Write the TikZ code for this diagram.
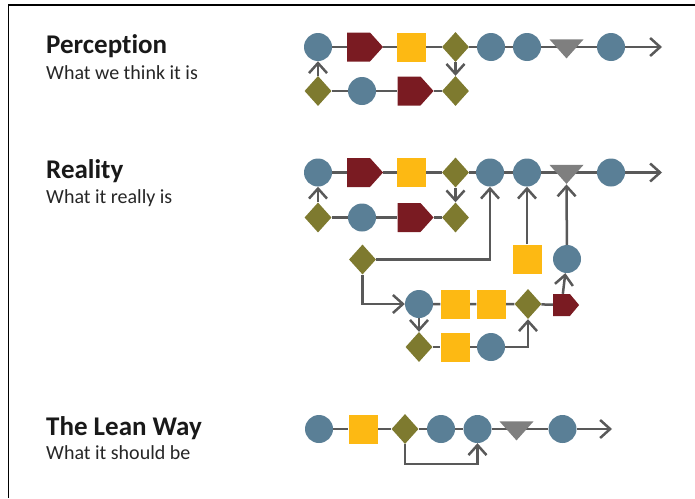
\documentclass[tikz,border=0pt]{standalone}
\usepackage{fontspec}
\setmainfont{Carlito}[Ligatures=NoCommon]
\usetikzlibrary{shapes.geometric,shapes.symbols,arrows.meta,backgrounds}
\definecolor{cblue}{HTML}{5A7F96}
\definecolor{cred}{HTML}{7A1B22}
\definecolor{cyel}{HTML}{FDB913}
\definecolor{colive}{HTML}{7E7A2F}
\definecolor{cgray}{HTML}{7F7F7F}
\definecolor{cline}{HTML}{595959}
\begin{document}
\begin{tikzpicture}[x=1pt,y=-1pt,
 circ/.style={circle,fill=cblue,minimum size=28pt,inner sep=0pt},
 sq/.style={rectangle,fill=cyel,minimum size=29pt,inner sep=0pt},
 dia/.style={diamond,fill=colive,minimum width=27pt,minimum height=30pt,inner sep=0pt},
 pent/.style={signal,signal to=east,signal pointer angle=96,fill=cred,minimum width=36pt,minimum height=29pt,inner sep=0pt},
 spent/.style={signal,signal to=east,signal pointer angle=100,fill=cred,minimum width=26pt,minimum height=22pt,inner sep=0pt},
 tri/.style={isosceles triangle,isosceles triangle stretches,shape border rotate=-90,fill=cgray,minimum width=34pt,minimum height=19pt,inner sep=0pt},
 conn/.style={draw=cline,line width=2.5pt},
 arr/.style={conn,-{Straight Barb[length=10pt,width=18pt]}},
 title/.style={anchor=base west,inner sep=0pt,font=\bfseries\fontsize{27}{32}\selectfont,text=black!90},
 sub/.style={anchor=base west,inner sep=0pt,font=\fontsize{20}{24}\selectfont,text=black!85},
]
\useasboundingbox (0,0) rectangle (695,498);
\draw[line width=1.8pt] (8.5,498) -- (8.5,5) -- (695,5);

% texts
\node[title] (tp) at (46,53) {Perception};
\node[sub] (sp) at (46,79) {What we think it is};
\node[title] (tr) at (46,178) {Reality};
\node[sub] (sr) at (46,203) {What it really is};
\node[title] (tl) at (46,435) {The Lean Way};
\node[sub] (sl) at (46,459) {What it should be};

% Perception
\node[circ] (p1) at (318,47) {};
\node[pent] (p2) at (358.5,47) {};
\node[sq] (p3) at (411.5,47) {};
\node[dia] (p4) at (455.5,47) {};
\node[circ] (p5) at (491,47) {};
\node[circ] (p6) at (527,47) {};
\node[tri] (p7) at (566.5,47) {};
\node[circ] (p8) at (611,47) {};
\coordinate (pe) at (662,47);
\node[dia] (q1) at (318,91) {};
\node[circ] (q2) at (362,91) {};
\node[pent] (q3) at (409,91) {};
\node[dia] (q4) at (455.5,91) {};

% Reality
\node[circ] (r1) at (318,172.5) {};
\node[pent] (r2) at (358.5,172.5) {};
\node[sq] (r3) at (411.5,172.5) {};
\node[dia] (r4) at (455.5,172.5) {};
\node[circ] (r5) at (490,172.5) {};
\node[circ] (r6) at (527,172.5) {};
\node[tri] (r7) at (566.5,172.5) {};
\node[circ] (r8) at (611,172.5) {};
\coordinate (re) at (662,172.5);
\node[dia] (s1) at (318,217.5) {};
\node[circ] (s2) at (362,217.5) {};
\node[pent] (s3) at (409,217.5) {};
\node[dia] (s4) at (455.5,217.5) {};
\node[dia] (d1) at (362.5,259.5) {};
\node[sq] (k1) at (527,259) {};
\node[circ] (k2) at (567,259) {};
\node[circ] (m1) at (419,304) {};
\node[sq] (m2) at (455,304) {};
\node[sq] (m3) at (491,304) {};
\node[dia] (m4) at (528,304) {};
\node[spent] (m5) at (561.5,305) {};
\node[dia] (n1) at (419,347) {};
\node[sq] (n2) at (455,347) {};
\node[circ] (n3) at (491,347) {};

% Lean
\node[circ] (l1) at (319,429) {};
\node[sq] (l2) at (363,429) {};
\node[dia] (l3) at (405,429) {};
\node[circ] (l4) at (441,429) {};
\node[circ] (l5) at (477.5,429) {};
\node[tri] (l6) at (516.5,429) {};
\node[circ] (l7) at (562.5,429) {};
\coordinate (le) at (612,429);
\coordinate (lb) at (477.5,464);

\begin{scope}[on background layer]
\draw[conn] (p1) -- (p2) -- (p3) -- (p4) -- (p5) -- (p6) -- (p7.center) -- (p8);
\draw[arr] (p8) -- (pe);
\draw[conn] (q1) -- (q2) -- (q3) -- (q4);
\draw[arr] (q1) -- (p1);
\draw[arr] (p4) -- (q4);

\draw[conn] (r1) -- (r2) -- (r3) -- (r4) -- (r5) -- (r6) -- (r7.center) -- (r8);
\draw[arr] (r8) -- (re);
\draw[conn] (s1) -- (s2) -- (s3) -- (s4);
\draw[arr] (s1) -- (r1);
\draw[arr] (r4) -- (s4);
\draw[arr] (d1) -| (r5);
\draw[arr] (k1) -- (r6);
\draw[arr] (k2) -- (r7.apex);
\draw[arr] (d1) |- (m1);
\draw[conn] (m1) -- (m2) -- (m3) -- (m4) -- (m5);
\draw[arr] (m5) -- (k2);
\draw[arr] (m1) -- (n1);
\draw[conn] (n1) -- (n2) -- (n3);
\draw[arr] (n3) -| (m4);

\draw[conn] (l1) -- (l2) -- (l3) -- (l4) -- (l5) -- (l6.center) -- (l7);
\draw[arr] (l7) -- (le);
\draw[arr] (l3) |- (lb) -- (l5);
\end{scope}
\end{tikzpicture}
\end{document}
